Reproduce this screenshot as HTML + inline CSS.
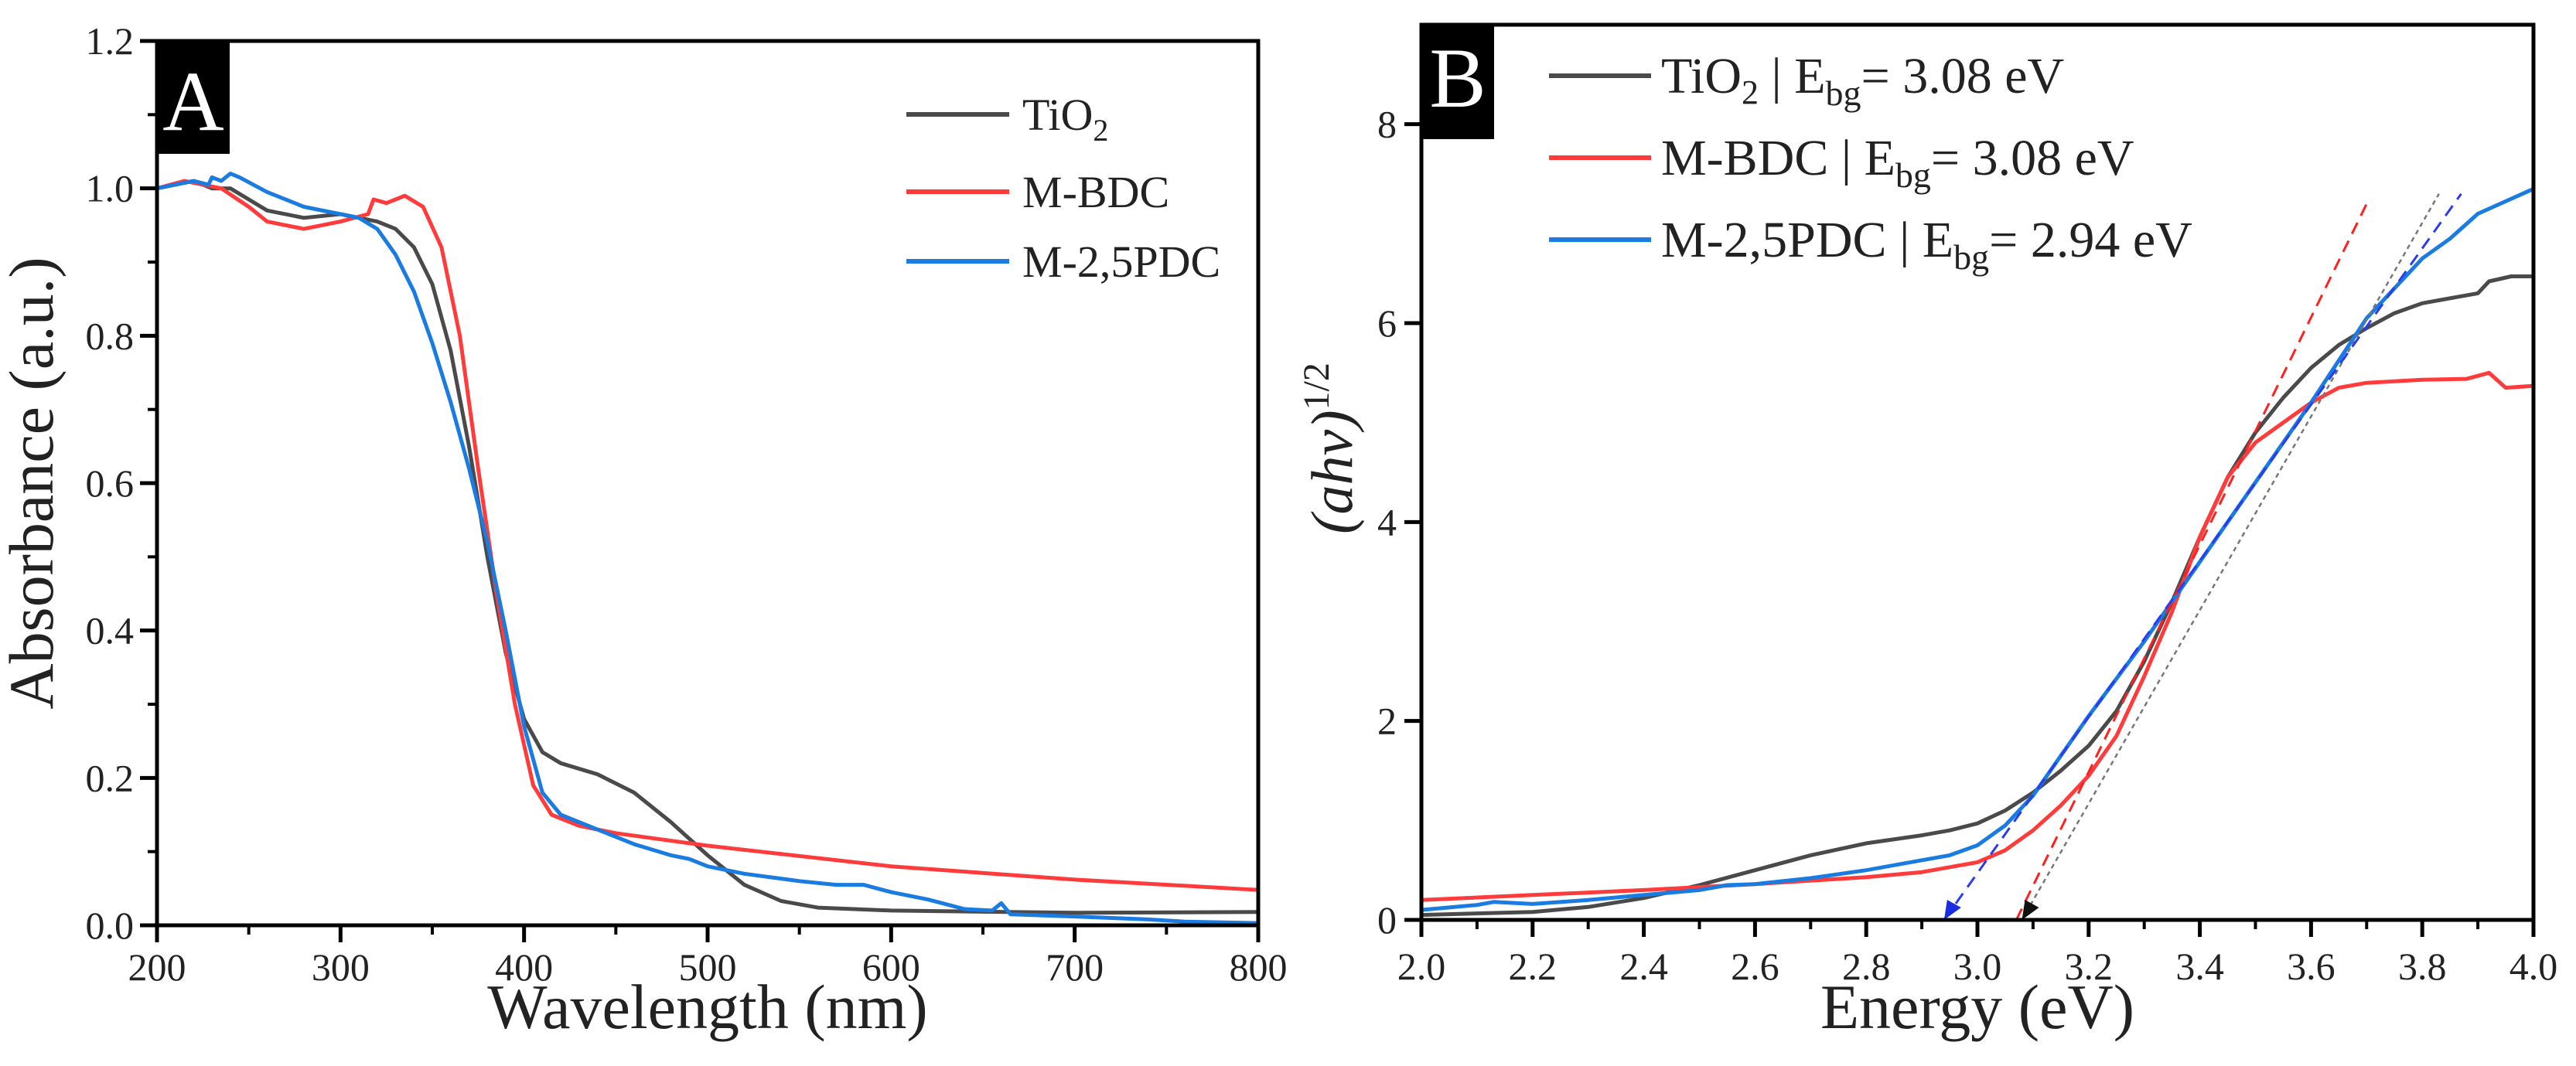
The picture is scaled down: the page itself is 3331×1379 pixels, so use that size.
<!DOCTYPE html>
<html><head><meta charset="utf-8"><style>
html,body{margin:0;padding:0;background:#fff;}
svg{display:block;font-family:"Liberation Serif",serif;}
</style></head><body>
<svg id="chart" width="3331" height="1379" viewBox="0 0 3331 1379" xmlns="http://www.w3.org/2000/svg">
<g id="pa"></g>
<g id="pb"></g>
</svg>
<script>
// Panel A data
const aWl = {
 tio2:[200,220,230,240,250,260,280,300,320,330,340,350,360,370,380,390,400,410,420,440,460,480,500,520,540,560,600,700,800],
 bdc:[200,215,235,250,260,280,300,315,318,325,335,345,355,365,375,385,395,405,415,430,450,500,600,700,800],
 pdc:[200,220,228,230,235,240,245,260,280,300,310,320,330,340,350,360,370,380,390,400,410,420,440,460,480,490,500,520,550,570,585,600,620,640,655,660,665,700,740,760,800]
};
const aTio2 = [1.0,1.01,1.0,1.0,0.985,0.97,0.96,0.965,0.955,0.945,0.92,0.87,0.78,0.65,0.5,0.37,0.28,0.235,0.22,0.205,0.18,0.14,0.095,0.055,0.033,0.024,0.02,0.017,0.018];
const aBdc = [1.0,1.01,1.0,0.975,0.955,0.945,0.955,0.965,0.985,0.98,0.99,0.975,0.92,0.8,0.62,0.45,0.3,0.19,0.15,0.135,0.125,0.108,0.08,0.062,0.048];
const aPdc = [1.0,1.01,1.005,1.015,1.01,1.02,1.015,0.995,0.975,0.965,0.96,0.945,0.91,0.86,0.79,0.71,0.62,0.52,0.4,0.27,0.18,0.15,0.13,0.11,0.095,0.09,0.08,0.07,0.06,0.055,0.055,0.045,0.035,0.022,0.02,0.03,0.015,0.012,0.008,0.005,0.003];
const aXTicks = [200,300,400,500,600,700,800];
const aYTicks = [0.0,0.2,0.4,0.6,0.8,1.0,1.2];
const aXLabels = ["200","300","400","500","600","700","800"];
const aYLabels = ["0.0","0.2","0.4","0.6","0.8","1.0","1.2"];
// Panel B data
const bE = {
 tio2:[2.0,2.2,2.3,2.4,2.5,2.6,2.7,2.8,2.9,2.95,3.0,3.05,3.1,3.15,3.2,3.25,3.3,3.35,3.4,3.45,3.5,3.55,3.6,3.65,3.7,3.75,3.8,3.9,3.92,3.96,4.0],
 bdc:[2.0,2.2,2.4,2.6,2.8,2.9,3.0,3.05,3.1,3.15,3.2,3.25,3.3,3.35,3.4,3.45,3.5,3.55,3.6,3.65,3.7,3.8,3.88,3.92,3.95,4.0],
 pdc:[2.0,2.1,2.13,2.2,2.3,2.4,2.5,2.55,2.6,2.7,2.8,2.9,2.95,3.0,3.05,3.1,3.15,3.2,3.3,3.4,3.5,3.6,3.7,3.8,3.85,3.9,4.0]
};
const bTio2 = [0.05,0.08,0.13,0.22,0.35,0.5,0.65,0.77,0.85,0.9,0.97,1.1,1.28,1.5,1.75,2.1,2.6,3.2,3.85,4.45,4.9,5.25,5.55,5.78,5.95,6.1,6.2,6.3,6.42,6.47,6.47];
const bBdc = [0.2,0.25,0.3,0.36,0.43,0.48,0.58,0.7,0.9,1.15,1.45,1.85,2.45,3.1,3.85,4.45,4.8,5.0,5.2,5.35,5.4,5.43,5.44,5.5,5.35,5.37];
const bPdc = [0.1,0.15,0.18,0.16,0.2,0.25,0.3,0.35,0.36,0.42,0.5,0.6,0.65,0.75,0.95,1.25,1.65,2.05,2.8,3.6,4.4,5.2,6.05,6.65,6.85,7.1,7.35];
const bFitE = {pdc:[2.94,3.87], bdc:[3.07,3.70], tio2:[3.08,3.83]};
const bFitY = {pdc:[0,7.3], bdc:[0,7.2], tio2:[0,7.3]};
const bXTicks = [2.0,2.2,2.4,2.6,2.8,3.0,3.2,3.4,3.6,3.8,4.0];
const bXLabels = ["2.0","2.2","2.4","2.6","2.8","3.0","3.2","3.4","3.6","3.8","4.0"];
const bYTicks = [0,2,4,6,8];
const bYLabels = ["0","2","4","6","8"];

const NS="http://www.w3.org/2000/svg";
function mk(parent,tag,attrs,text){const e=document.createElementNS(NS,tag);for(const k in attrs)e.setAttribute(k,attrs[k]);if(text!==undefined)e.textContent=text;parent.appendChild(e);return e;}

const C={tio2:"#4a4a4a",bdc:"#ff3b3b",pdc:"#1a7be0"};

// ---------- Panel A ----------
const pa=document.getElementById('pa');
const AX={l:203,r:1627,t:53,b:1197};
const ax=v=>AX.l+(v-200)/600*(AX.r-AX.l);
const ay=v=>AX.b-(v/1.2)*(AX.b-AX.t);
function seriesA(xs,ys,col,name){
  const d=xs.map((x,i)=>(i?'L':'M')+ax(x).toFixed(1)+','+ay(ys[i]).toFixed(1)).join('');
  const p=mk(pa,'path',{d:d,fill:'none',stroke:col,'stroke-width':5,'stroke-linejoin':'round'});
  
  
}
seriesA(aWl.tio2,aTio2,C.tio2,'line-tio2');
seriesA(aWl.bdc,aBdc,C.bdc,'line-m-bdc');
seriesA(aWl.pdc,aPdc,C.pdc,'line-m-25pdc');
{const f=mk(pa,'rect',{x:AX.l,y:AX.t,width:AX.r-AX.l,height:AX.b-AX.t,fill:'none',stroke:'#000','stroke-width':5});
}
aXTicks.forEach((v,i)=>{
  const x=ax(v);
  const t=mk(pa,'line',{x1:x,x2:x,y1:AX.b,y2:AX.b+22,stroke:'#000','stroke-width':5});
  
  if(i<aXTicks.length-1){const m=mk(pa,'line',{x1:ax(v+50),x2:ax(v+50),y1:AX.b,y2:AX.b+12,stroke:'#000','stroke-width':4});
  }
  const l=mk(pa,'text',{x:x,y:1268,'font-size':50,'text-anchor':'middle',fill:'#222'},aXLabels[i]);
  
});
aYTicks.forEach((v,i)=>{
  const y=ay(v);
  const t=mk(pa,'line',{x1:AX.l-22,x2:AX.l,y1:y,y2:y,stroke:'#000','stroke-width':5});
  
  if(i<aYTicks.length-1){const m=mk(pa,'line',{x1:AX.l-12,x2:AX.l,y1:ay(v+0.1),y2:ay(v+0.1),stroke:'#000','stroke-width':4});
  }
  const l=mk(pa,'text',{x:AX.l-30,y:y+17,'font-size':50,'text-anchor':'end',fill:'#222'},aYLabels[i]);
  
});
{const b=mk(pa,'rect',{x:AX.l,y:AX.t,width:94,height:146,fill:'#000'});
const t=mk(pa,'text',{x:250,y:168,'font-size':110,'text-anchor':'middle',fill:'#fff'},'A');}
{const t=mk(pa,'text',{x:915,y:1330,'font-size':82,'text-anchor':'middle',fill:'#222'},'Wavelength (nm)');
const y=mk(pa,'text',{x:0,y:0,'font-size':82,'text-anchor':'middle',fill:'#222',transform:'translate(68,625) rotate(-90)'},'Absorbance (a.u.)');}
[['TiO','2',C.tio2,148,'legend-entry-tio2'],['M-BDC','',C.bdc,248,'legend-entry-m-bdc'],['M-2,5PDC','',C.pdc,338,'legend-entry-m-25pdc']].forEach(e=>{
  const g=mk(pa,'g',{});
  mk(g,'line',{x1:1172,x2:1305,y1:e[3],y2:e[3],stroke:e[2],'stroke-width':6});
  const t=mk(g,'text',{x:1322,y:e[3]+20,'font-size':58,fill:'#222'},e[0]);
  if(e[1]){mk(t,'tspan',{'font-size':40,dy:14},e[1]);}
});

// ---------- Panel B ----------
const pb=document.getElementById('pb');
const BX={l:1838,r:3276,t:32,b:1190};
const bx=v=>BX.l+(v-2)/2*(BX.r-BX.l);
const by=v=>BX.b-(v/9)*(BX.b-BX.t);
function seriesB(xs,ys,col,name,extra){
  const d=xs.map((x,i)=>(i?'L':'M')+bx(x).toFixed(1)+','+by(ys[i]).toFixed(1)).join('');
  const a={d:d,fill:'none',stroke:col,'stroke-width':5,'stroke-linejoin':'round'};
  if(extra)Object.assign(a,extra);
  const p=mk(pb,'path',a);
  
  
}
seriesB(bE.tio2,bTio2,C.tio2,'line-tio2-tauc');
seriesB(bE.bdc,bBdc,C.bdc,'line-m-bdc-tauc');
seriesB(bE.pdc,bPdc,C.pdc,'line-m-25pdc-tauc');
seriesB(bFitE.tio2,bFitY.tio2,'#777','fit-line-tio2',{'stroke-width':2.5,'stroke-dasharray':'6 5'});
seriesB(bFitE.bdc,bFitY.bdc,'#ff2020','fit-line-m-bdc',{'stroke-width':3,'stroke-dasharray':'16 10'});
seriesB(bFitE.pdc,bFitY.pdc,'#2a3cf0','fit-line-m-25pdc',{'stroke-width':3,'stroke-dasharray':'16 10'});
function arrowHead(e,col,name){
  const x=bx(e),y=by(0);
  const p=mk(pb,'polygon',{points:`${x},${y} ${x+4},${y-26} ${x+22},${y-16}`,fill:col});
  
}
arrowHead(bFitE.pdc[0],'#1a2ee0','arrow-eg-m-25pdc');
arrowHead(bFitE.tio2[0],'#111','arrow-eg-tio2');
{const f=mk(pb,'rect',{x:BX.l,y:BX.t,width:BX.r-BX.l,height:BX.b-BX.t,fill:'none',stroke:'#000','stroke-width':5});
}
bXTicks.forEach((v,i)=>{
  const x=bx(v);
  const t=mk(pb,'line',{x1:x,x2:x,y1:BX.b,y2:BX.b+22,stroke:'#000','stroke-width':5});
  
  if(i<bXTicks.length-1){const m=mk(pb,'line',{x1:bx(v+0.1),x2:bx(v+0.1),y1:BX.b,y2:BX.b+12,stroke:'#000','stroke-width':4});
  }
  const l=mk(pb,'text',{x:x,y:1267,'font-size':50,'text-anchor':'middle',fill:'#222'},bXLabels[i]);
  
});
bYTicks.forEach((v,i)=>{
  const y=by(v);
  const t=mk(pb,'line',{x1:BX.l-22,x2:BX.l,y1:y,y2:y,stroke:'#000','stroke-width':5});
  
  const l=mk(pb,'text',{x:BX.l-32,y:y+17,'font-size':50,'text-anchor':'end',fill:'#222'},bYLabels[i]);
  
});
{const b=mk(pb,'rect',{x:BX.l,y:BX.t,width:94,height:148,fill:'#000'});
const t=mk(pb,'text',{x:1885,y:138,'font-size':110,'text-anchor':'middle',fill:'#fff'},'B');}
{const t=mk(pb,'text',{x:2557,y:1330,'font-size':82,'text-anchor':'middle',fill:'#222'},'Energy (eV)');
const y=mk(pb,'text',{x:0,y:0,'font-size':76,'text-anchor':'middle',fill:'#222',transform:'translate(1748,580) rotate(-90)'});

mk(y,'tspan',{'font-style':'italic'},'(ahv)');mk(y,'tspan',{'font-size':48,dy:-30},'1/2');}
[['TiO','2',' | E','bg','= 3.08 eV',C.tio2,98,'legend-entry-tio2-eg'],['M-BDC','',' | E','bg','= 3.08 eV',C.bdc,204,'legend-entry-m-bdc-eg'],['M-2,5PDC','',' | E','bg','= 2.94 eV',C.pdc,310,'legend-entry-m-25pdc-eg']].forEach(e=>{
  const g=mk(pb,'g',{});
  mk(g,'line',{x1:2003,x2:2135,y1:e[6],y2:e[6],stroke:e[5],'stroke-width':6});
  const t=mk(g,'text',{x:2148,y:e[6]+22,'font-size':66,fill:'#222'},e[0]);
  if(e[1]){mk(t,'tspan',{'font-size':44,dy:14},e[1]);mk(t,'tspan',{dy:-14},e[2]);}
  else mk(t,'tspan',{},e[2]);
  mk(t,'tspan',{'font-size':46,dy:16},e[3]);
  mk(t,'tspan',{dy:-16},e[4]);
});
</script>
</body></html>
